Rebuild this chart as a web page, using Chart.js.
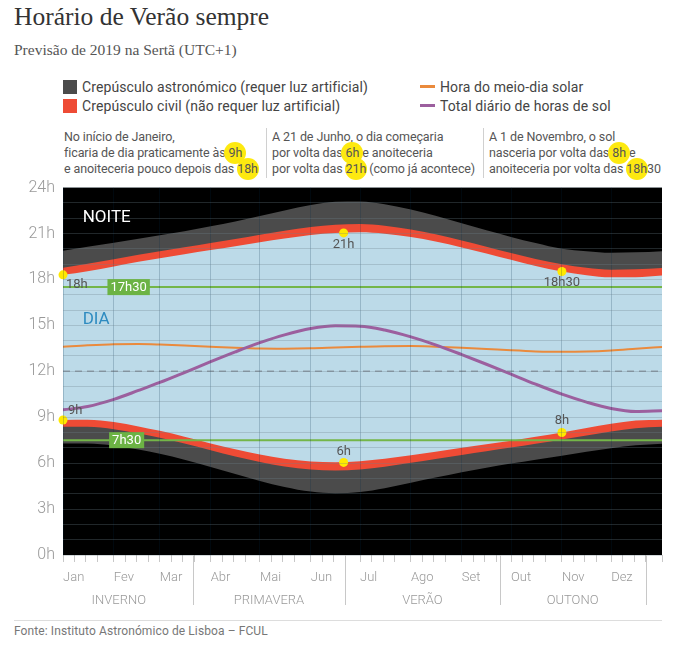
<!DOCTYPE html>
<html>
<head>
<meta charset="utf-8">
<script src="https://cdn.jsdelivr.net/npm/chart.js@4.4.1/dist/chart.umd.min.js"></script>
<style>
  body { margin: 0; width: 686px; height: 655px; background: #fff; font-family: Roboto, sans-serif; position: relative; overflow: hidden; }
  .title { position: absolute; left: 14px; top: 3px; font-family: "Liberation Serif", serif; font-size: 25.5px; line-height: 28px; color: #333; }
  .subtitle { position: absolute; left: 14px; top: 41px; font-family: "Liberation Serif", serif; font-size: 15.5px; line-height: 18px; color: #555; }
  .leg { position: absolute; font-size: 14px; line-height: 18px; color: #444; letter-spacing: 0.1px; white-space: nowrap; }
  .leg .sq { display: inline-block; width: 14px; height: 14px; vertical-align: -2px; margin-right: 5px; }
  .leg .ln { display: inline-block; width: 15px; height: 3px; vertical-align: 4px; margin-right: 5px; }
  .note { position: absolute; top: 129px; font-size: 12.5px; line-height: 16px; color: #555; letter-spacing: -0.1px; white-space: nowrap; }
  .sep { position: absolute; top: 128px; width: 1px; height: 50px; background: #d0d0d0; }
  .hl { position: relative; z-index: 0; }
  .hl::before { content: ''; position: absolute; left: 50%; top: 50%; width: 22px; height: 22px; margin: -11px 0 0 -11px; background: #fde910; border-radius: 50%; z-index: -1; }
  #wrap { position: absolute; left: 0; top: 170px; width: 686px; height: 450px; }
  .foot-line { position: absolute; left: 14px; top: 620px; width: 648px; height: 1px; background: #ddd; }
  .foot { position: absolute; left: 14px; top: 624px; font-size: 12px; line-height: 14px; color: #777; letter-spacing: 0.1px; }
</style>
</head>
<body>
<div class="title">Horário de Verão sempre</div>
<div class="subtitle">Previsão de 2019 na Sertã (UTC+1)</div>

<div class="leg" style="left:63px; top:78px;"><span class="sq" style="background:#4b4b4b"></span>Crepúsculo astronómico (requer luz artificial)</div>
<div class="leg" style="left:63px; top:97px;"><span class="sq" style="background:#ee4b35"></span>Crepúsculo civil (não requer luz artificial)</div>
<div class="leg" style="left:420px; top:78px;"><span class="ln" style="background:#ea8a3c"></span>Hora do meio-dia solar</div>
<div class="leg" style="left:420px; top:97px;"><span class="ln" style="background:#9c5f9e"></span>Total diário de horas de sol</div>

<div class="note" style="left:64px;">No início de Janeiro,<br>ficaria de dia praticamente às <span class="hl">9h</span><br>e anoiteceria pouco depois das <span class="hl">18h</span></div>
<div class="sep" style="left:266px;"></div>
<div class="note" style="left:272px;">A 21 de Junho, o dia começaria<br>por volta das <span class="hl">6h</span> e anoiteceria<br>por volta das <span class="hl">21h</span> (como já acontece)</div>
<div class="sep" style="left:483px;"></div>
<div class="note" style="left:489px;">A 1 de Novembro, o sol<br>nasceria por volta das <span class="hl">8h</span> e<br>anoiteceria por volta das <span class="hl">18h</span>30</div>

<div id="wrap"><canvas id="c"></canvas></div>

<div class="foot-line"></div>
<div class="foot">Fonte: Instituto Astronómico de Lisboa – FCUL</div>

<script>
// day of year (0 = 1 Jan)
const days = [0, 15, 31, 46, 59, 74, 90, 105, 120, 135, 151, 166, 181, 196, 212, 227, 243, 258, 273, 288, 304, 319, 334, 349, 365];

// hours, UTC+1 all year
const astroDawn = [7.28, 7.28, 7.14, 6.89, 6.62, 6.23, 5.75, 5.29, 4.84, 4.45, 4.14, 4.03, 4.11, 4.36, 4.72, 5.06, 5.41, 5.70, 5.97, 6.23, 6.49, 6.74, 6.98, 7.17, 7.27];
const civilDawn = [8.37, 8.37, 8.21, 7.94, 7.66, 7.28, 6.84, 6.43, 6.07, 5.78, 5.58, 5.52, 5.59, 5.77, 6.02, 6.27, 6.54, 6.78, 7.02, 7.27, 7.55, 7.81, 8.07, 8.28, 8.37];
const sunrise   = [8.82, 8.84, 8.68, 8.40, 8.11, 7.73, 7.29, 6.90, 6.56, 6.29, 6.11, 6.06, 6.13, 6.29, 6.52, 6.75, 7.00, 7.23, 7.47, 7.72, 8.01, 8.29, 8.57, 8.78, 8.84];
const sunset    = [18.30, 18.54, 18.85, 19.15, 19.38, 19.65, 19.92, 20.17, 20.43, 20.67, 20.90, 21.03, 21.08, 20.99, 20.77, 20.48, 20.09, 19.69, 19.28, 18.88, 18.52, 18.28, 18.14, 18.15, 18.26];
const civilDusk = [18.76, 19.03, 19.32, 19.61, 19.84, 20.10, 20.38, 20.64, 20.92, 21.18, 21.43, 21.58, 21.62, 21.51, 21.27, 20.96, 20.55, 20.14, 19.73, 19.34, 18.99, 18.76, 18.64, 18.66, 18.75];
const astroDusk = [19.88, 20.13, 20.39, 20.66, 20.88, 21.15, 21.47, 21.79, 22.14, 22.51, 22.86, 23.07, 23.10, 22.92, 22.57, 22.16, 21.67, 21.21, 20.78, 20.38, 20.00, 19.84, 19.74, 19.77, 19.85];
const solarNoon = [13.60, 13.70, 13.77, 13.78, 13.75, 13.69, 13.61, 13.54, 13.49, 13.48, 13.50, 13.55, 13.60, 13.64, 13.65, 13.61, 13.54, 13.46, 13.37, 13.30, 13.27, 13.29, 13.36, 13.47, 13.59];
const dayLength = [9.48, 9.70, 10.17, 10.75, 11.27, 11.92, 12.63, 13.27, 13.87, 14.38, 14.79, 14.97, 14.95, 14.70, 14.25, 13.73, 13.09, 12.46, 11.81, 11.16, 10.51, 9.99, 9.57, 9.37, 9.42];

const monthStarts = [0, 31, 59, 90, 120, 151, 181, 212, 243, 273, 304, 334];
const monthNames = ['Jan', 'Fev', 'Mar', 'Abr', 'Mai', 'Jun', 'Jul', 'Ago', 'Set', 'Out', 'Nov', 'Dez'];
const seasonBounds = [79, 172, 266, 355];
const seasonNames = ['INVERNO', 'PRIMAVERA', 'VERÃO', 'OUTONO'];
const seasonCenters = [34, 125.5, 219, 310.5];

const markerDays = [0, 0, 171, 171, 304, 304];
const markerHours = [18.3, 8.82, 21.04, 6.05, 18.52, 8.0];
const markerLabels = ['18h', '9h', '21h', '6h', '18h30', '8h'];

const middayHour = 12;
const greenHours = [17.5, 7.5];
const greenLabels = ['17h30', '7h30'];

// weekly tick marks inside each month
const tickDays = [];
monthStarts.forEach((m, i) => {
    const next = i < monthStarts.length - 1 ? monthStarts[i + 1] : 365;
    for (let d = m; d < next - 3; d += 7) tickDays.push(d);
});
tickDays.push(365);

const pts = (arr) => days.map((d, i) => ({ x: d, y: arr[i] }));
const flat = (h) => [{ x: 0, y: h }, { x: 365, y: h }];

const GRAY = '#4b4b4b', RED = '#ee4b35', BLUE = '#bcdae8';

function band(arr, fill, color, order) {
    return {
        data: pts(arr), fill: fill, backgroundColor: color, borderWidth: 0,
        pointRadius: 0, cubicInterpolationMode: 'monotone', order: order,
    };
}

// black night behind everything
const nightBg = {
    id: 'nightBg',
    beforeDraw(chart) {
        const { ctx, chartArea: a } = chart;
        ctx.save();
        ctx.fillStyle = '#000';
        ctx.fillRect(a.left, a.top, a.width, a.height);
        ctx.restore();
    },
};

// seasons, zone names, hour badges, marker labels
const decorations = {
    id: 'decorations',
    afterDraw(chart) {
        const { ctx, chartArea: a } = chart;
        const xs = chart.scales.x, ys = chart.scales.y;
        ctx.save();

        ctx.strokeStyle = '#c8c8c8';
        ctx.lineWidth = 1;
        seasonBounds.forEach((d) => {
            const px = Math.round(xs.getPixelForValue(d)) + 0.5;
            ctx.beginPath();
            ctx.moveTo(px, a.bottom);
            ctx.lineTo(px, a.bottom + 50);
            ctx.stroke();
        });
        ctx.fillStyle = '#999';
        ctx.font = '300 13px Roboto';
        ctx.textAlign = 'center';
        ctx.textBaseline = 'middle';
        seasonNames.forEach((n, i) => ctx.fillText(n, xs.getPixelForValue(seasonCenters[i]), a.bottom + 46));

        ctx.textAlign = 'left';
        ctx.font = '17px Roboto';
        ctx.fillStyle = '#fff';
        ctx.fillText('NOITE', xs.getPixelForValue(12), ys.getPixelForValue(22.05));
        ctx.fillStyle = '#2e8bc0';
        ctx.fillText('DIA', xs.getPixelForValue(12), ys.getPixelForValue(15.38));

        ctx.font = '13px Roboto';
        ctx.textAlign = 'center';
        greenHours.forEach((h, i) => {
            const cx = xs.getPixelForValue(40) + (i ? -2 : 0), cy = ys.getPixelForValue(h);
            const w = ctx.measureText(greenLabels[i]).width + 6;
            ctx.fillStyle = '#6cb344';
            ctx.fillRect(cx - w / 2, cy - 8, w, 16);
            ctx.fillStyle = '#fff';
            ctx.fillText(greenLabels[i], cx, cy + 0.5);
        });

        const meta = chart.getDatasetMeta(chart.data.datasets.length - 1);
        const place = [[3, 10, 'left'], [5, -9, 'left'], [0, 12, 'center'], [0, -11, 'center'], [0, 11, 'center'], [0, -12, 'center']];
        ctx.fillStyle = '#555';
        meta.data.forEach((p, i) => {
            ctx.textAlign = place[i][2];
            ctx.fillText(markerLabels[i], p.x + place[i][0], p.y + place[i][1]);
        });
        ctx.restore();
    },
};

Chart.defaults.font.family = 'Roboto';

new Chart(document.getElementById('c'), {
    type: 'line',
    data: {
        datasets: [
            band(astroDawn, '+1', GRAY, 30),
            band(astroDusk, false, GRAY, 30),
            band(civilDawn, '+1', RED, 20),
            band(civilDusk, false, RED, 20),
            band(sunrise, '+1', BLUE, 10),
            band(sunset, false, BLUE, 10),
            { data: flat(middayHour), borderColor: '#8d9ba6', borderWidth: 1.5, borderDash: [7, 5], pointRadius: 0, order: 5 },
            { data: flat(greenHours[0]), borderColor: '#74b649', borderWidth: 2, pointRadius: 0, order: 5 },
            { data: flat(greenHours[1]), borderColor: '#74b649', borderWidth: 2, pointRadius: 0, order: 5 },
            { data: pts(solarNoon), borderColor: '#ea8a3c', borderWidth: 2, pointRadius: 0, cubicInterpolationMode: 'monotone', order: 4 },
            { data: pts(dayLength), borderColor: '#9c5f9e', borderWidth: 3, pointRadius: 0, cubicInterpolationMode: 'monotone', order: 3 },
            {
                data: markerDays.map((d, i) => ({ x: d, y: markerHours[i] })),
                showLine: false, pointRadius: 4.5, pointBackgroundColor: '#ffe900', pointBorderWidth: 0,
                clip: false, order: 0,
            },
        ],
    },
    options: {
        responsive: true,
        maintainAspectRatio: false,
        animation: false,
        layout: { padding: { left: 0, right: 24, top: 15, bottom: 35 } },
        plugins: { legend: { display: false }, tooltip: { enabled: false } },
        scales: {
            x: {
                type: 'linear', min: 0, max: 365,
                afterBuildTicks: (s) => { s.ticks = tickDays.map((v) => ({ value: v })); },
                afterFit: (s) => { s.height = 30; },
                border: { display: false },
                grid: {
                    z: 1,
                    color: (c) => (c.tick && monthStarts.includes(c.tick.value)) ? 'rgba(0,40,70,0.2)' : 'rgba(0,0,0,0)',
                    tickColor: '#c8c8c8', tickLength: 7,
                },
                ticks: {
                    autoSkip: false, maxRotation: 0, align: 'start', padding: 8, color: '#999', font: { size: 13, weight: '300' },
                    callback: (v) => { const i = monthStarts.indexOf(v); return i >= 0 ? monthNames[i] : ''; },
                },
            },
            y: {
                min: 0, max: 24,
                afterFit: (s) => { s.width = 63; },
                border: { display: false },
                grid: { z: 1, color: 'rgba(110,130,140,0.3)', drawTicks: false },
                ticks: {
                    stepSize: 1, autoSkip: false, padding: 8, color: '#999', font: { size: 16, weight: '300' },
                    callback: (v) => (v % 3 === 0 ? v + 'h' : ''),
                },
            },
        },
    },
    plugins: [nightBg, decorations],
});
</script>
</body>
</html>
